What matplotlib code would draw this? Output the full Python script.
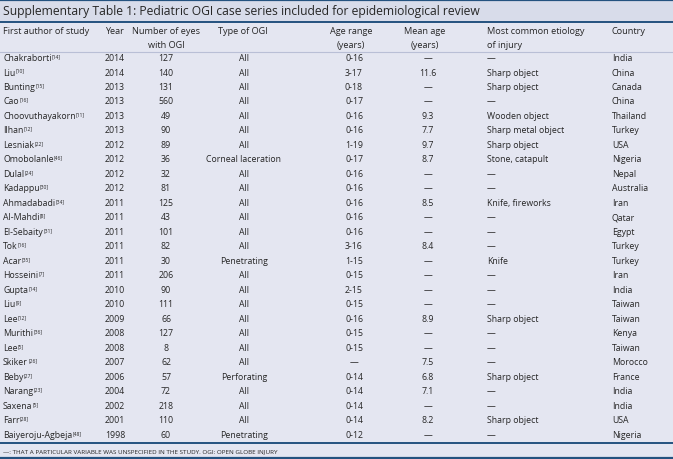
import matplotlib.pyplot as plt

# table data
authors = ['Chakraborti', 'Liu', 'Bunting', 'Cao', 'Choovuthayakorn', 'Ilhan', 'Lesniak',
           'Omobolanle', 'Dulal', 'Kadappu', 'Ahmadabadi', 'Al-Mahdi', 'El-Sebaity', 'Tok',
           'Acar', 'Hosseini', 'Gupta', 'Liu', 'Lee', 'Murithi', 'Lee', 'Skiker', 'Beby',
           'Narang', 'Saxena', 'Farr', 'Baiyeroju-Agbeja']
refs = ['14', '10', '15', '16', '11', '12', '22', '46', '24', '30', '34', '8', '31', '16',
        '35', '7', '14', '9', '12', '36', '5', '26', '27', '23', '5', '28', '48']
years = ['2014', '2014', '2013', '2013', '2013', '2013', '2012', '2012', '2012', '2012',
         '2011', '2011', '2011', '2011', '2011', '2011', '2010', '2010', '2009', '2008',
         '2008', '2007', '2006', '2004', '2002', '2001', '1998']
eyes = ['127', '140', '131', '560', '49', '90', '89', '36', '32', '81', '125', '43', '101',
        '82', '30', '206', '90', '111', '66', '127', '8', '62', '57', '72', '218', '110', '60']
types = ['All'] * 7 + ['Corneal laceration'] + ['All'] * 6 + ['Penetrating'] + ['All'] * 7 + \
        ['Perforating'] + ['All'] * 3 + ['Penetrating']
age_ranges = ['0-16', '3-17', '0-18', '0-17', '0-16', '0-16', '1-19', '0-17', '0-16', '0-16',
              '0-16', '0-16', '0-16', '3-16', '1-15', '0-15', '2-15', '0-15', '0-16', '0-15',
              '0-15', '—', '0-14', '0-14', '0-14', '0-14', '0-12']
mean_ages = ['—', '11.6', '—', '—', '9.3', '7.7', '9.7', '8.7', '—', '—', '8.5', '—', '—',
             '8.4', '—', '—', '—', '—', '8.9', '—', '—', '7.5', '6.8', '7.1', '—', '8.2', '—']
etiologies = ['—', 'Sharp object', 'Sharp object', '—', 'Wooden object', 'Sharp metal object',
              'Sharp object', 'Stone, catapult', '—', '—', 'Knife, fireworks', '—', '—', '—',
              'Knife', '—', '—', '—', 'Sharp object', '—', '—', '—', 'Sharp object', '—', '—',
              'Sharp object', '—']
countries = ['India', 'China', 'Canada', 'China', 'Thailand', 'Turkey', 'USA', 'Nigeria',
             'Nepal', 'Australia', 'Iran', 'Qatar', 'Egypt', 'Turkey', 'Turkey', 'Iran', 'India',
             'Taiwan', 'Taiwan', 'Kenya', 'Taiwan', 'Morocco', 'France', 'India', 'India', 'USA',
             'Nigeria']

plt.rcParams['font.family'] = ['Open Sans', 'DejaVu Sans']
bg = '#e4e6f1'
line_col = '#24527f'
txt = '#262626'

fig = plt.figure(figsize=(6.73, 4.60), dpi=100, facecolor=bg)
ax = fig.add_axes([0, 0, 1, 1])
ax.set_xlim(0, 673)
ax.set_ylim(460, 0)
ax.axis('off')
ax.set_facecolor(bg)

# title bar
ax.axhspan(0, 22, color='#d8dcea', zorder=0)
ax.text(3, 11.5, 'Supplementary Table 1: Pediatric OGI case series included for epidemiological review',
        fontsize=8.7, va='center', ha='left', color=txt)

# horizontal rules
for y, lw in [(0.8, 1.6), (22.5, 1.4), (443.5, 1.4), (459.2, 1.6)]:
    ax.axhline(y, color=line_col, lw=lw)
ax.axhline(52.5, color='#b9bfd6', lw=0.8)

# header
hdr_fs = 6.6
ax.text(3, 31, 'First author of study', fontsize=hdr_fs, va='center', ha='left', color=txt)
ax.text(114, 31, 'Year', fontsize=hdr_fs, va='center', ha='center', color=txt)
ax.text(166, 31, 'Number of eyes', fontsize=hdr_fs, va='center', ha='center', color=txt)
ax.text(166, 45, 'with OGI', fontsize=hdr_fs, va='center', ha='center', color=txt)
ax.text(243, 31, 'Type of OGI', fontsize=hdr_fs, va='center', ha='center', color=txt)
ax.text(351, 31, 'Age range', fontsize=hdr_fs, va='center', ha='center', color=txt)
ax.text(351, 45, '(years)', fontsize=hdr_fs, va='center', ha='center', color=txt)
ax.text(425, 31, 'Mean age', fontsize=hdr_fs, va='center', ha='center', color=txt)
ax.text(425, 45, '(years)', fontsize=hdr_fs, va='center', ha='center', color=txt)
ax.text(487, 31, 'Most common etiology', fontsize=hdr_fs, va='center', ha='left', color=txt)
ax.text(487, 45, 'of injury', fontsize=hdr_fs, va='center', ha='left', color=txt)
ax.text(612, 31, 'Country', fontsize=hdr_fs, va='center', ha='left', color=txt)

# body rows
fs = 6.3
y0, dy = 58.5, 14.5
renderer = fig.canvas.get_renderer()
inv = ax.transData.inverted()
for i in range(len(authors)):
    y = y0 + i * dy
    t = ax.text(3, y, authors[i], fontsize=fs, va='center', ha='left', color=txt)
    bb = t.get_window_extent(renderer)
    x_end = inv.transform((bb.x1, bb.y1))[0]
    ax.text(x_end + 0.5, y - 2, '[' + refs[i] + ']', fontsize=3.6, va='center', ha='left', color=txt)
    ax.text(115, y, years[i], fontsize=fs, va='center', ha='center', color=txt)
    ax.text(166, y, eyes[i], fontsize=fs, va='center', ha='center', color=txt)
    ax.text(244, y, types[i], fontsize=fs, va='center', ha='center', color=txt)
    ax.text(354, y, age_ranges[i], fontsize=fs, va='center', ha='center', color=txt)
    ax.text(428, y, mean_ages[i], fontsize=fs, va='center', ha='center', color=txt)
    ax.text(487, y, etiologies[i], fontsize=fs, va='center', ha='left', color=txt)
    ax.text(612, y, countries[i], fontsize=fs, va='center', ha='left', color=txt)

# footnote
ax.text(3, 451.5, '—: THAT A PARTICULAR VARIABLE WAS UNSPECIFIED IN THE STUDY. OGI: OPEN GLOBE INJURY',
        fontsize=4.5, va='center', ha='left', color=txt)

fig.savefig('out.png', dpi=100, facecolor=bg)
